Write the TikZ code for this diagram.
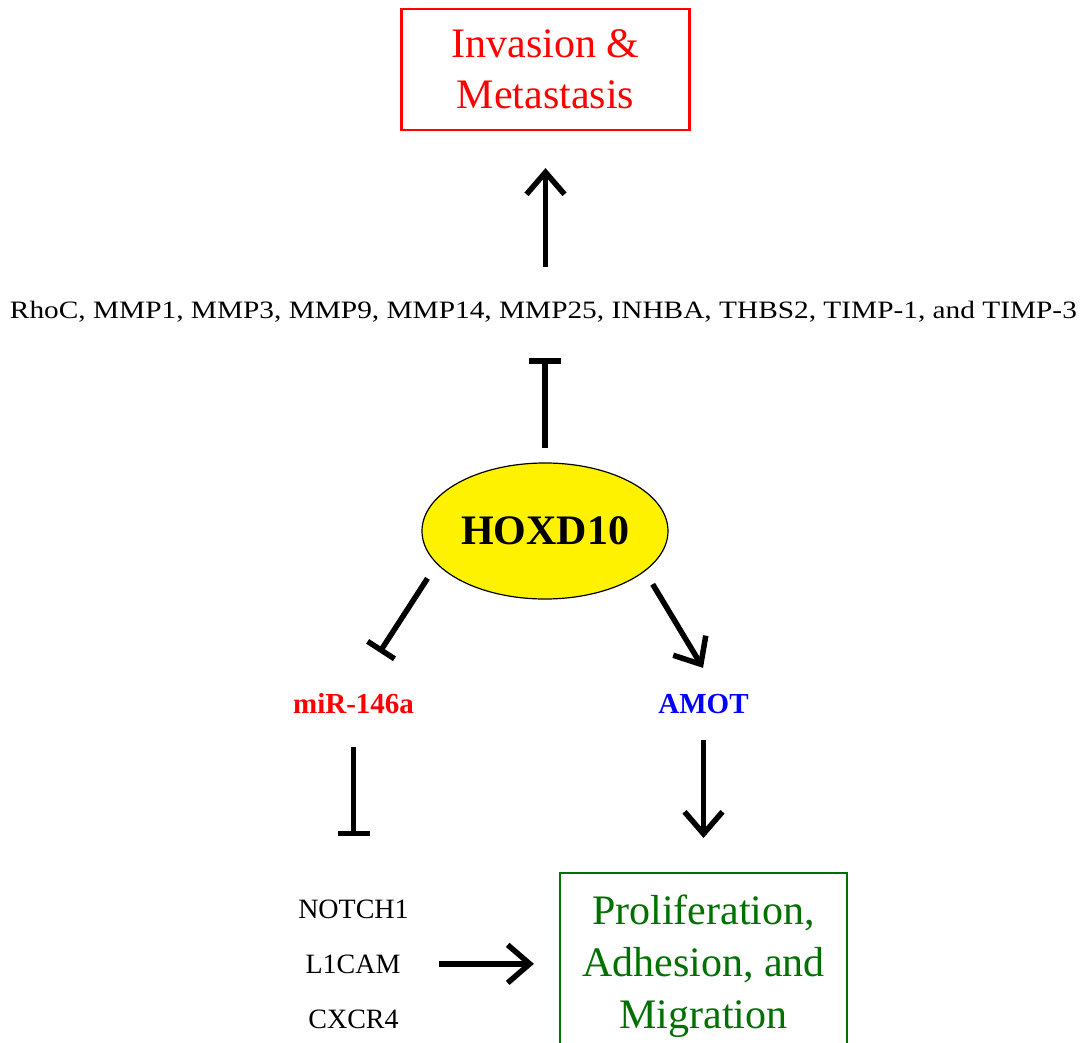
\documentclass[tikz,border=0pt]{standalone}
\usepackage{fontspec}
\usepackage{graphicx}
\setmainfont{Liberation Serif}
\usetikzlibrary{arrows.meta,shapes.geometric,calc}
\definecolor{prolifgreen}{RGB}{0,112,0}

\begin{document}
\begin{tikzpicture}[
		x=1pt, y=-1pt,
		outcome/.style={rectangle, draw, line width=2.2pt, align=center, font=\fontsize{42}{51}\selectfont},
		gene/.style={inner sep=0pt, anchor=base, font=\fontsize{28}{32}\selectfont},
		mirna/.style={inner sep=0pt, anchor=base, font=\bfseries\fontsize{29}{34}\selectfont},
		activ/.style={line width=5.5pt, -{Straight Barb[length=22pt, width=38pt]}},
		inhib/.style={line width=5.5pt, -{Bar[width=32pt]}}
		]
		\clip (0,0) rectangle (1087,1043);
		% Invasion outcome and its targets
		\node[outcome, red, minimum width=288pt, minimum height=121pt] (inv) at (545.5,69.5) {Invasion \&\\Metastasis};
		\node[inner sep=0pt, anchor=base] (targets) at (543.5,318) {\resizebox{1067pt}{\height}{\fontsize{25}{28}\selectfont RhoC, MMP1, MMP3, MMP9, MMP14, MMP25, INHBA, THBS2, TIMP-1, and TIMP-3}};
		% HOXD10
		\node[ellipse, draw, line width=1.2pt, fill=yellow, inner sep=0pt, minimum width=246pt, minimum height=136pt, font=\bfseries\fontsize{42}{50}\selectfont] (hox) at (545,531) {HOXD10};
		\node[mirna, red] (mir) at (353.5,713) {miR-146a};
		\node[mirna, blue] (amot) at (703.5,713) {AMOT};
		% Downstream genes
		\node[gene] (notch) at (353.5,918) {NOTCH1};
		\node[gene] (l1cam) at (353,973) {L1CAM};
		\node[gene] (cxcr) at (353.5,1028) {CXCR4};
		\node[outcome, prolifgreen, anchor=north, minimum width=287pt, inner ysep=22pt, font=\fontsize{42}{52}\selectfont] (prolif) at (703.5,872) {Proliferation,\\Adhesion, and\\Migration};
		% Connectors
		\draw[activ, shorten <=33pt, shorten >=37pt] (targets.north -| inv.south) -- (inv.south);
		\draw[inhib, shorten <=14pt, shorten >=36pt] (hox.north) -- (hox.north |- targets.south);
		\draw[inhib, shorten <=17pt, shorten >=48pt] (hox.197) -- (mir.north);
		\draw[activ, shorten <=15pt, shorten >=30pt] (hox.338) -- ($(amot.north)+(15,0)$);
		\draw[inhib, shorten <=34pt, shorten >=63pt] (mir.south) -- (mir.south |- notch.north);
		\draw[activ, shorten <=27pt, shorten >=34pt] (amot.south) -- (amot.south |- prolif.north);
		\draw[activ, shorten <=38pt, shorten >=25pt] (l1cam.east) -- (l1cam.east -| prolif.west);
\end{tikzpicture}
\end{document}
